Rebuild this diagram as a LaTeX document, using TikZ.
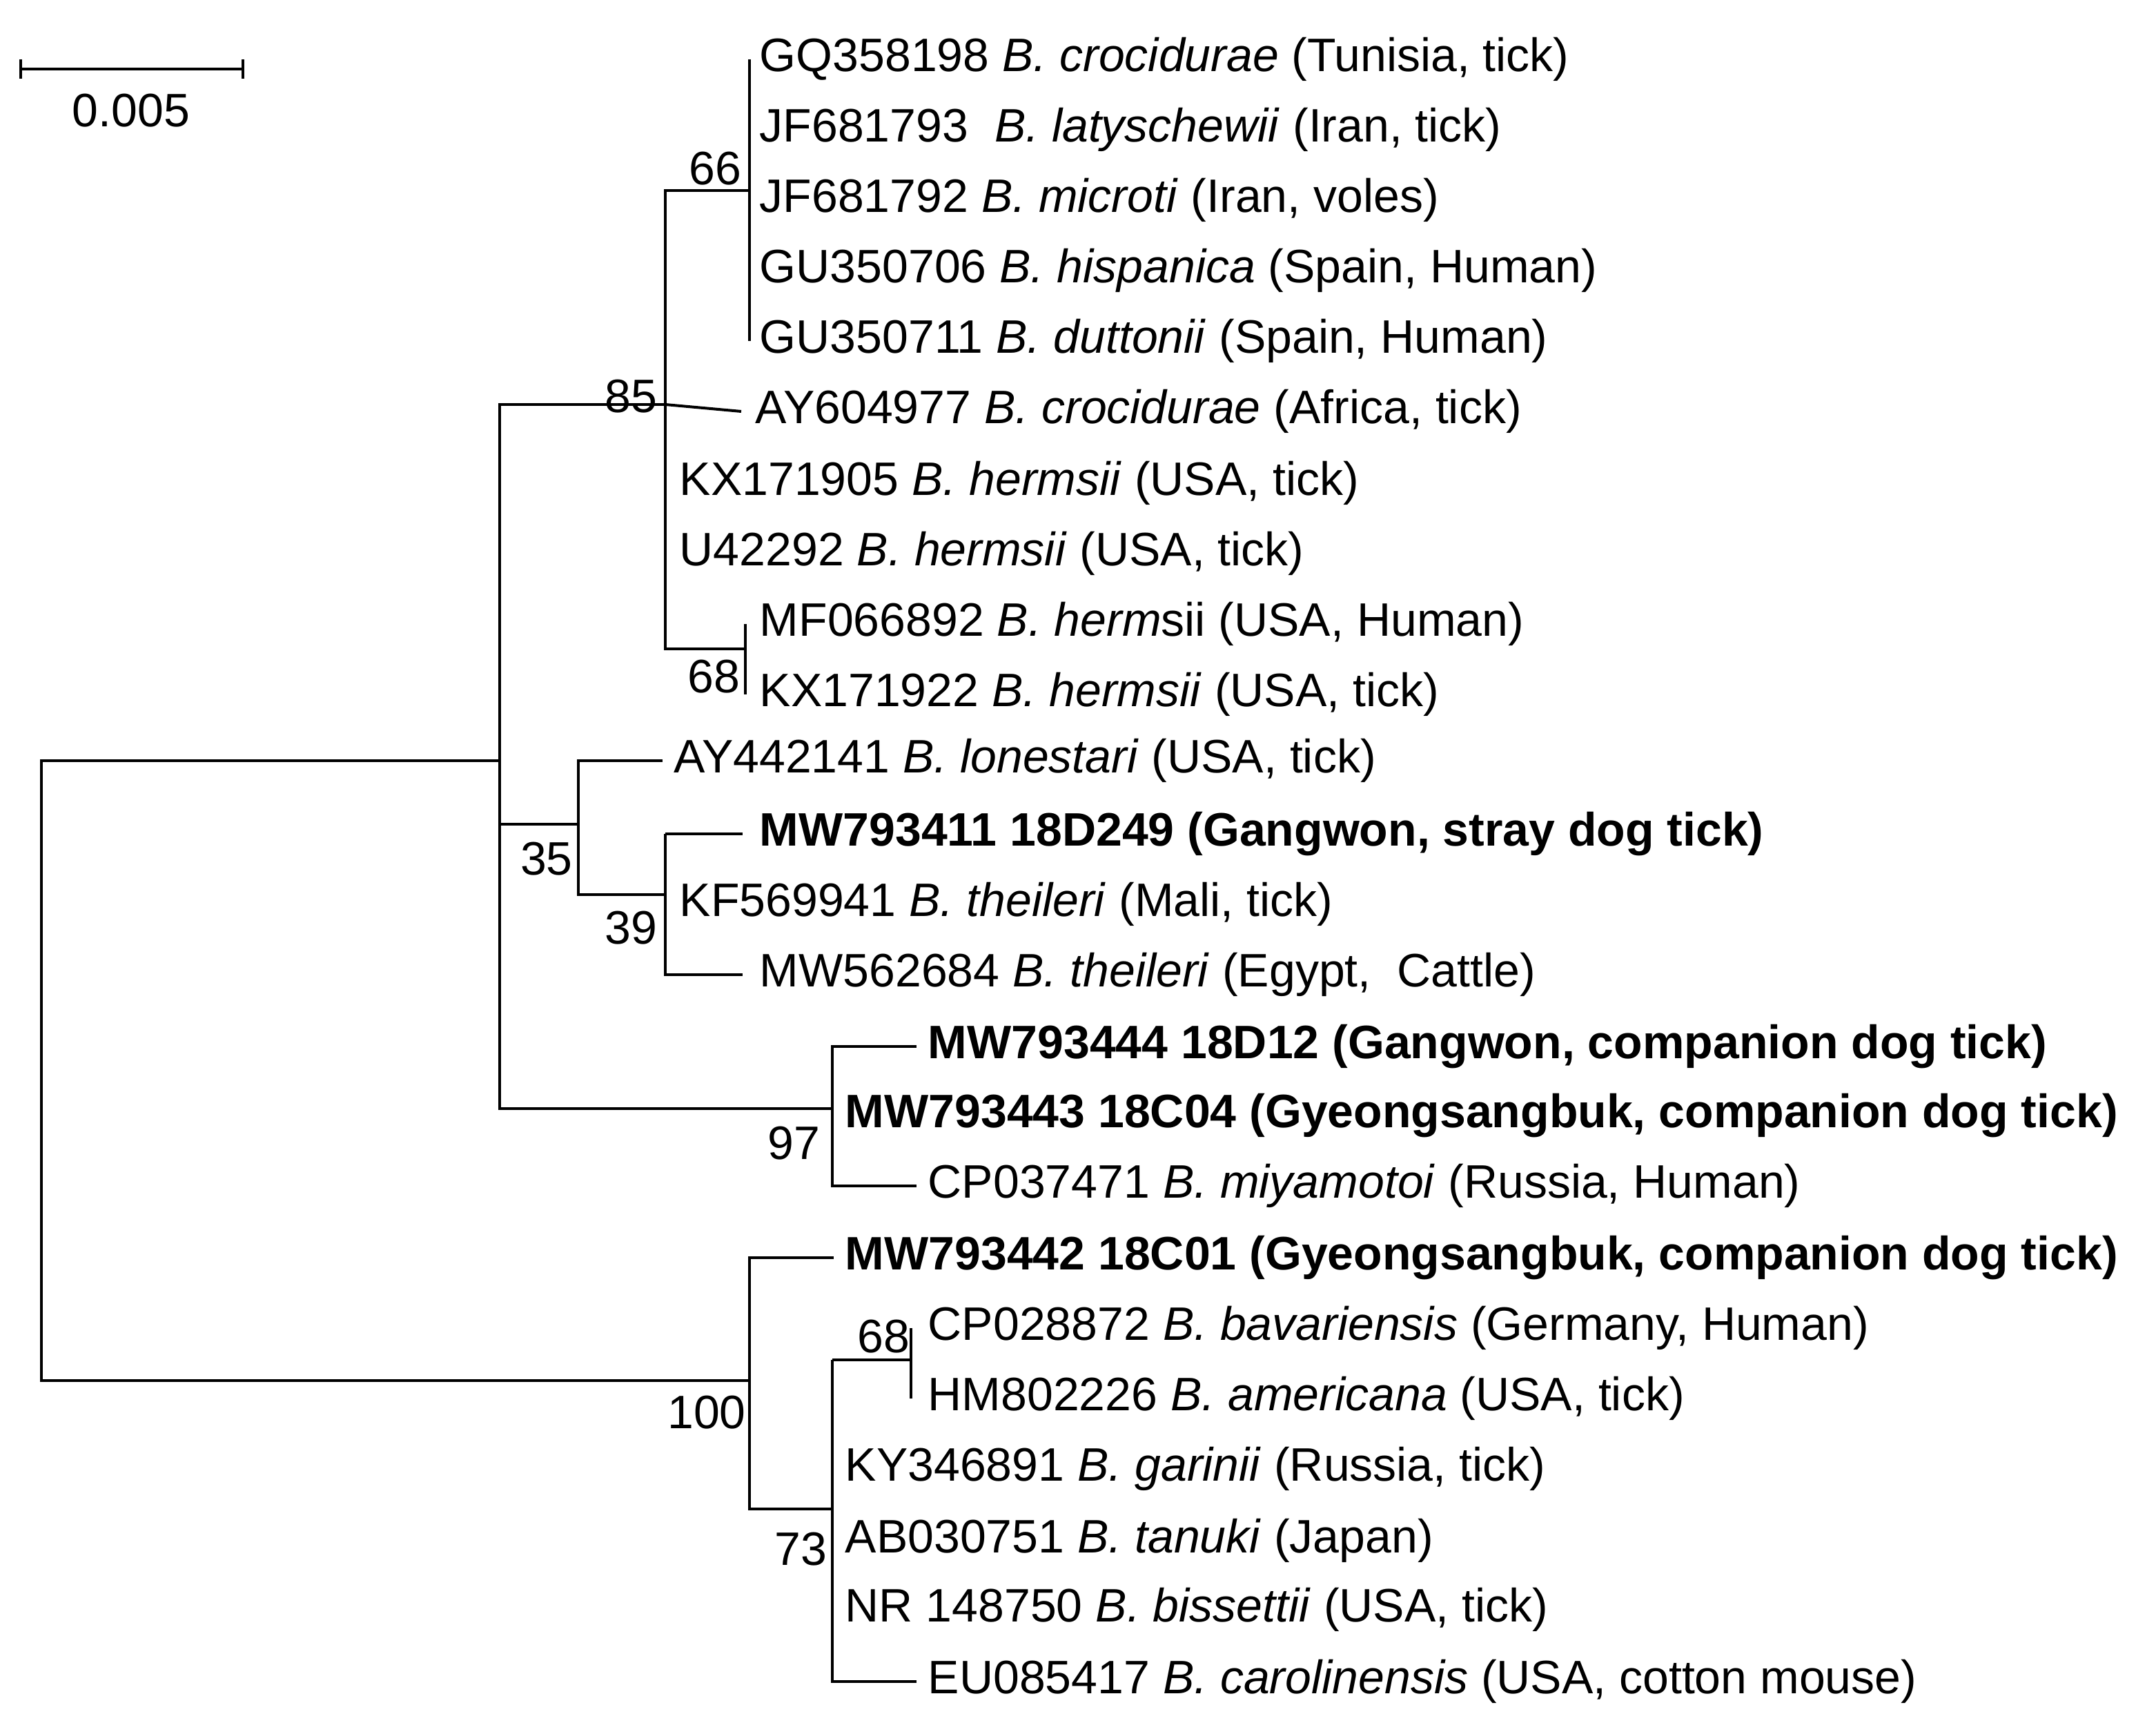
\documentclass[tikz,border=0pt]{standalone}
\usepackage{fontspec}
\setmainfont{Liberation Sans}
\begin{document}
\begin{tikzpicture}[x=0.5pt,y=-0.5pt,
    leaf/.style = {anchor=west, inner sep=0pt, font=\fontsize{17pt}{19pt}\selectfont},
    bs/.style = {inner sep=0pt, font=\fontsize{17pt}{19pt}\selectfont},
    br/.style = {line width=1pt}
                    ]
    \useasboundingbox (0,0) rectangle (1562,1256);
    % scale bar
    \coordinate (s1) at (15,50);
    \coordinate (s2) at (176,50);
    \draw[br] (s1) -- (s2);
    \draw[br] ([yshift=-0.5pt*7]s1) -- ([yshift=0.5pt*7]s1);
    \draw[br] ([yshift=-0.5pt*7]s2) -- ([yshift=0.5pt*7]s2);
    \node[bs] (scl) at (95,80) {0.005};
    % internal nodes
    \coordinate (root) at (30,551);
    \coordinate (n0) at (362,551);
    \coordinate (n85) at (482,293);
    \coordinate (n66) at (543,138);
    \coordinate (n68a) at (540,470);
    \coordinate (n35) at (419,597);
    \coordinate (n39) at (482,648);
    \coordinate (n97) at (603,803);
    \coordinate (n100) at (543,1000);
    \coordinate (n73) at (603,1093);
    \coordinate (n68b) at (660,985);
    % leaves
    \foreach \n/\x/\y/\t in {
        a/550/43/{GQ358198 \textit{B. crocidurae} (Tunisia, tick)},
        b/550/94/{JF681793\ \ \textit{B. latyschewii} (Iran, tick)},
        c/550/145/{JF681792 \textit{B. microti} (Iran, voles)},
        d/550/196/{GU350706 \textit{B. hispanica} (Spain, Human)},
        e/550/247/{GU350711 \textit{B. duttonii} (Spain, Human)},
        f/547/298/{AY604977 \textit{B. crocidurae} (Africa, tick)},
        g/492/350/{KX171905 \textit{B. hermsii} (USA, tick)},
        h/492/401/{U42292 \textit{B. hermsii} (USA, tick)},
        i/550/452/{MF066892 \textit{B. herm}sii (USA, Human)},
        j/550/503/{KX171922 \textit{B. hermsii} (USA, tick)},
        k/488/551/{AY442141 \textit{B. lonestari} (USA, tick)},
        l/550/604/{\textbf{MW793411 18D249 (Gangwon, stray dog tick)}},
        m/492/655/{KF569941 \textit{B. theileri} (Mali, tick)},
        n/550/706/{MW562684 \textit{B. theileri} (Egypt,\ \ Cattle)},
        o/672/758/{\textbf{MW793444 18D12 (Gangwon, companion dog tick)}},
        p/612/808/{\textbf{MW793443 18C04 (Gyeongsangbuk, companion dog tick)}},
        q/672/859/{CP037471 \textit{B. miyamotoi} (Russia, Human)},
        r/612/911/{\textbf{MW793442 18C01 (Gyeongsangbuk, companion dog tick)}},
        s/672/962/{CP028872 \textit{B. bavariensis} (Germany, Human)},
        t/672/1013/{HM802226 \textit{B. americana} (USA, tick)},
        u/612/1064/{KY346891 \textit{B. garinii} (Russia, tick)},
        v/612/1116/{AB030751 \textit{B. tanuki} (Japan)},
        w/612/1166/{NR 148750 \textit{B. bissettii} (USA, tick)},
        x/672/1218/{EU085417 \textit{B. carolinensis} (USA, cotton mouse)}}
        \node[leaf] (\n) at (\x,\y) {\t};
    % branches
    \draw[br] (n0) -- (root) |- (n100);
    \draw[br] (n85) -| (n0) |- (n97);
    \draw[br] (n35) -- (n0 |- n35);
    \draw[br] (n66) -| (n85) |- (n68a);
    \draw[br] (n85) -- ([xshift=-5pt]f.west);
    \draw[br] (n66 |- a) -- (n66 |- e);
    \draw[br] (n68a |- i) -- (n68a |- j);
    \draw[br] ([xshift=-4pt]k.west) -| (n35) |- (n39);
    \draw[br] (n39 |- l) -- ([xshift=-6pt]l.west);
    \draw[br] (n39 |- l) -- (n39 |- n) -- ([xshift=-6pt]n.west);
    \draw[br] ([xshift=-4pt]o.west) -| (n97) |- ([xshift=-4pt]q.west);
    \draw[br] ([xshift=-4pt]r.west) -| (n100) |- (n73);
    \draw[br] (n73 |- n68b) -- (n68b);
    \draw[br] (n68b |- s) -- (n68b |- t);
    \draw[br] (n73 |- n68b) -- (n73 |- x) -- ([xshift=-4pt]x.west);
    % bootstrap values
    \node[bs] (b66) at (518,122) {66};
    \node[bs] (b85) at (457,287) {85};
    \node[bs] (b68a) at (517,490) {68};
    \node[bs] (b35) at (396,622) {35};
    \node[bs] (b39) at (457,672) {39};
    \node[bs] (b97) at (575,828) {97};
    \node[bs] (b100) at (512,1023) {100};
    \node[bs] (b73) at (580,1122) {73};
    \node[bs] (b68b) at (640,968) {68};
\end{tikzpicture}
\end{document}
